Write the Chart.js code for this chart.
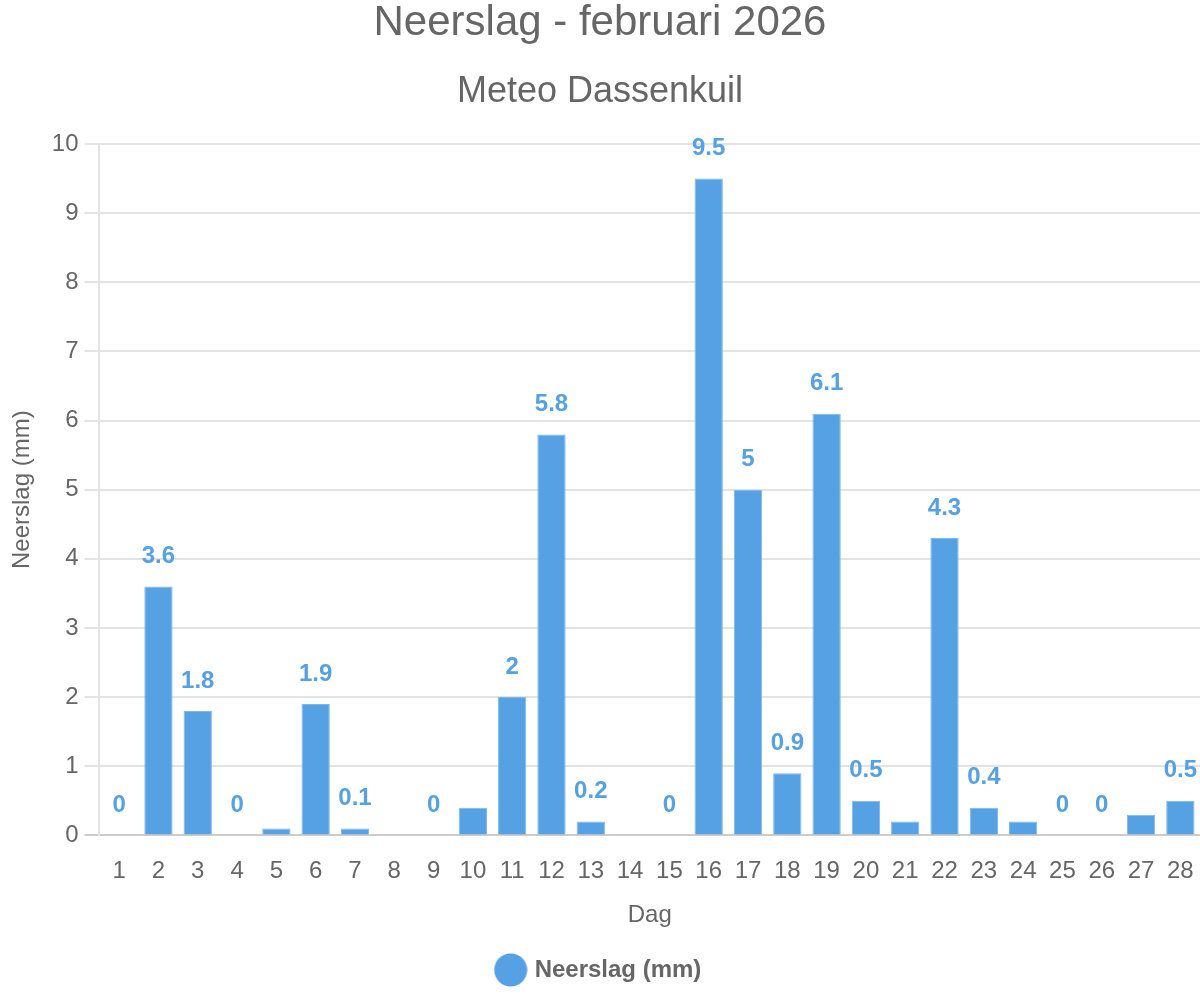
<!DOCTYPE html>
<html>
<head>
<meta charset="utf-8">
<script src="https://cdn.jsdelivr.net/npm/chart.js@4"></script>
<style>
  html, body { margin: 0; padding: 0; background: #fff; }
  #wrap { width: 1200px; height: 1000px; position: relative; }
</style>
</head>
<body>
<div id="wrap"><canvas id="c"></canvas></div>
<script>
const days = ['1','2','3','4','5','6','7','8','9','10','11','12','13','14','15','16','17','18','19','20','21','22','23','24','25','26','27','28'];
const rainfall = [0, 3.6, 1.8, 0, 0.1, 1.9, 0.1, 0, 0, 0.4, 2, 5.8, 0.2, 0, 0, 9.5, 5, 0.9, 6.1, 0.5, 0.2, 4.3, 0.4, 0.2, 0, 0, 0.3, 0.5];
const labelledDays = ['1','2','3','4','6','7','9','11','12','13','15','16','17','18','19','20','22','23','25','26','28'];
const yTicks = [0,1,2,3,4,5,6,7,8,9,10];

const FONT = "'Liberation Sans', Arial, Helvetica, sans-serif";
const GREY = '#666666';
const BLUE = '#55a1e4';

const labelPlugin = {
  id: 'valueLabels',
  afterDatasetsDraw(chart) {
    const meta = chart.getDatasetMeta(0);
    const ctx = chart.ctx;
    ctx.save();
    ctx.font = 'bold 24px ' + FONT;
    ctx.fillStyle = BLUE;
    ctx.textAlign = 'center';
    ctx.textBaseline = 'middle';
    meta.data.forEach((bar, i) => {
      if (!labelledDays.includes(days[i])) return;
      ctx.fillText(String(rainfall[i]), bar.x, bar.y - 30);
    });
    ctx.restore();
  }
};

const dot = document.createElement('canvas');
dot.width = 34; dot.height = 34;
{
  const d = dot.getContext('2d');
  d.fillStyle = BLUE;
  d.beginPath(); d.arc(17, 17, 16.5, 0, Math.PI * 2); d.fill();
}

Chart.defaults.font.family = FONT;
Chart.defaults.color = GREY;

new Chart(document.getElementById('c'), {
  type: 'bar',
  data: {
    labels: days,
    datasets: [{
      label: 'Neerslag (mm)',
      data: rainfall,
      backgroundColor: BLUE,
      borderColor: '#7db8ec',
      borderWidth: 1,
      categoryPercentage: 0.8,
      barPercentage: 0.9,
      pointStyle: dot
    }]
  },
  options: {
    responsive: true,
    maintainAspectRatio: false,
    animation: false,
    layout: { padding: { left: 0, right: 0, top: 0, bottom: 8 } },
    plugins: {
      title: {
        display: true,
        text: 'Neerslag - februari 2026',
        font: { size: 42, weight: 'normal', lineHeight: 1 },
        color: GREY,
        padding: { top: 2, bottom: 30 }
      },
      subtitle: {
        display: true,
        text: 'Meteo Dassenkuil',
        font: { size: 36, weight: 'normal', lineHeight: 1 },
        color: GREY,
        padding: { top: 0, bottom: 34 }
      },
      legend: {
        position: 'bottom',
        labels: {
          usePointStyle: true,
          font: { size: 24, weight: 'bold' },
          color: GREY,
          padding: 28
        }
      },
      tooltip: { enabled: false }
    },
    scales: {
      x: {
        grid: { display: true, drawOnChartArea: false, drawTicks: true, tickLength: 16, color: 'rgba(0,0,0,0)' },
        border: { display: false },
        ticks: { font: { size: 24 }, color: GREY, padding: 6, autoSkip: false, maxRotation: 0 },
        title: { display: true, text: 'Dag', font: { size: 24 }, color: GREY, padding: { top: 9, bottom: 0 } }
      },
      y: {
        min: 0, max: 10,
        afterBuildTicks(scale) { scale.ticks = yTicks.map(v => ({ value: v })); },
        grid: {
          color: (c) => (c.tick && c.tick.value === 0 ? '#cccccc' : '#e3e3e3'),
          lineWidth: 2,
          tickLength: 15
        },
        border: { color: '#e3e3e3', width: 2 },
        ticks: { font: { size: 24 }, color: GREY, padding: 6 },
        title: { display: true, text: 'Neerslag (mm)', font: { size: 24 }, color: GREY, padding: { top: 8, bottom: 9 } }
      }
    }
  },
  plugins: [labelPlugin]
});
</script>
</body>
</html>
